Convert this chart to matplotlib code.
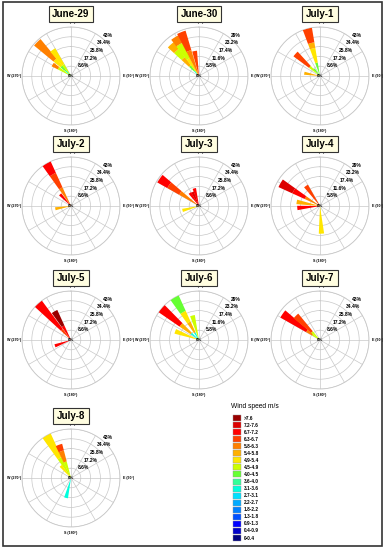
import numpy as np
import matplotlib
matplotlib.use("Agg")
import matplotlib.pyplot as plt
from matplotlib.patches import Rectangle

plt.rcParams['font.family'] = ['Liberation Sans', 'DejaVu Sans']

# ---------------- data ----------------
speed_classes = ['>7.6', '7.2-7.6', '6.7-7.2', '6.3-6.7', '5.8-6.3', '5.4-5.8',
                 '4.9-5.4', '4.5-4.9', '4.0-4.5', '3.6-4.0', '3.1-3.6', '2.7-3.1',
                 '2.2-2.7', '1.8-2.2', '1.3-1.8', '0.9-1.3', '0.4-0.9', '0-0.4']
# colours from slowest (index 0 = 0-0.4) to fastest (index 17 = >7.6)
class_colors = ['#000080', '#0000C8', '#0000FF', '#0050FF', '#0080FF', '#00AAFF',
                '#00E0FF', '#00FFDD', '#33FF99', '#66FF33', '#CCFF00', '#FFE600',
                '#FFB000', '#FF8000', '#FF4000', '#FF0000', '#DD0000', '#990000']

rings_43 = [8.6, 17.2, 25.8, 34.4, 43.0]
ring_labels_43 = ['8.6%', '17.2%', '25.8%', '34.4%', '43%']
rings_29 = [5.8, 11.6, 17.4, 23.2, 29.0]
ring_labels_29 = ['5.8%', '11.6%', '17.4%', '23.2%', '29%']

days = ['June-29', 'June-30', 'July-1', 'July-2', 'July-3', 'July-4',
        'July-5', 'July-6', 'July-7', 'July-8']
day_scale = [43, 29, 43, 43, 43, 29, 43, 29, 43, 43]

# petals: (direction deg, [(speed class index, frequency increment %), ...]) stacked outwards
june29 = [(315, [(7, 6), (9, 6), (11, 8), (13, 22)]),
          (325, [(10, 12), (11, 16)]),
          (302, [(10, 13), (13, 6)])]
june30 = [(318, [(7, 4), (9, 4), (12, 6), (10, 6), (12, 5)]),
          (328, [(11, 12), (10, 10), (13, 5)]),
          (338, [(13, 16), (14, 12)]),
          (350, [(14, 15)])]
july1 = [(345, [(9, 12), (11, 13), (12, 5), (14, 13)]),
         (312, [(10, 12), (14, 17)]),
         (320, [(9, 8)]),
         (280, [(12, 14)])]
july2 = [(330, [(13, 18), (14, 14), (15, 11)]),
         (317, [(15, 14)]),
         (260, [(12, 14)])]
july3 = [(305, [(13, 20), (14, 12), (15, 10)]),
         (345, [(15, 16)]),
         (335, [(16, 13.5)]),
         (325, [(15, 14)]),
         (255, [(11, 15)])]
july4 = [(300, [(13, 10), (15, 8), (16, 9)]),
         (325, [(14, 14.5)]),
         (280, [(12, 14)]),
         (265, [(15, 13.5)]),
         (177, [(11, 16.4)])]
july5 = [(318, [(14, 12), (15, 31)]),
         (330, [(15, 14), (17, 15)]),
         (250, [(15, 15)])]
july6 = [(330, [(7, 5), (12, 7), (11, 7), (9, 10)]),
         (310, [(7, 6), (12, 8), (15, 15)]),
         (345, [(10, 15)]),
         (290, [(11, 15)])]
july7 = [(305, [(10, 8), (13, 6), (15, 26)]),
         (315, [(10, 10), (14, 20)])]
july8 = [(330, [(10, 20), (11, 23)]),
         (340, [(10, 15), (13, 10), (14, 6)]),
         (320, [(11, 14)]),
         (194, [(7, 18)])]
day_petals = [june29, june30, july1, july2, july3, july4, july5, july6, july7, july8]

# ---------------- layout (pixels) ----------------
W, H = 385, 550
fig = plt.figure(figsize=(W / 100, H / 100), dpi=100)

def fx(x):
    return x / W

def fy(y):
    return 1 - y / H

col_x = [71, 199, 320]
row_y = [76, 206, 340, 478]
R = 49
petal_width = np.deg2rad(11)
grid_col = '#c8c8c8'

for i, day in enumerate(days):
    cx = col_x[i % 3]
    cy = row_y[i // 3]
    ax = fig.add_axes([fx(cx - R), fy(cy + R), 2 * R / W, 2 * R / H], projection='polar')
    ax.set_theta_zero_location('N')
    ax.set_theta_direction(-1)
    scale = day_scale[i]
    rings = rings_43 if scale == 43 else rings_29
    rlabels = ring_labels_43 if scale == 43 else ring_labels_29
    ax.set_ylim(0, scale)
    ax.set_yticks(rings)
    ax.set_yticklabels([])
    ax.set_xticks(np.deg2rad(np.arange(0, 360, 30)))
    ax.set_xticklabels([])
    ax.grid(True, color=grid_col, lw=0.5)
    ax.spines['polar'].set_color(grid_col)
    ax.spines['polar'].set_linewidth(0.6)
    ax.tick_params(length=0)

    for direction, segs in day_petals[i]:
        bottom = 0.0
        for cls, val in segs:
            ax.bar(np.deg2rad(direction), val, width=petal_width, bottom=bottom,
                   color=class_colors[cls], edgecolor='none', zorder=3)
            bottom += val

    for r, lab in zip(rings, rlabels):
        ax.text(np.deg2rad(40), r * 1.02, lab, ha='left', va='bottom', fontsize=3.6,
                fontweight='bold', zorder=5)
    ax.text(0, 0, '0%', ha='center', va='center', fontsize=3.2, fontweight='bold', zorder=5)
    ax.text(-0.01, 0.5, 'W (270°)', transform=ax.transAxes, ha='right', va='center',
            fontsize=2.6, fontweight='bold', zorder=6,
            bbox=dict(boxstyle='square,pad=0.05', facecolor='white', edgecolor='none'))
    ax.text(1.03, 0.5, 'E (90°)', transform=ax.transAxes, ha='left', va='center',
            fontsize=2.6, fontweight='bold')
    ax.text(0.5, -0.04, 'S (180°)', transform=ax.transAxes, ha='center', va='top',
            fontsize=2.6, fontweight='bold')
    ax.text(0.5, 1.03, 'N (0°)', transform=ax.transAxes, ha='center', va='bottom',
            fontsize=2.6, fontweight='bold')

    fig.text(fx(cx), fy(cy - 62), day, ha='center', va='center', fontsize=7,
             fontweight='bold', zorder=10,
             bbox=dict(boxstyle='square,pad=0.35', facecolor='#FFFDE0',
                       edgecolor='#333333', linewidth=0.8))

# ---------------- legend ----------------
fig.text(fx(231), fy(406), 'Wind speed m/s', ha='left', va='center', fontsize=4.8)
for k, lab in enumerate(speed_classes):
    yc = 418 + k * 7.06
    cls = len(speed_classes) - 1 - k
    fig.patches.append(Rectangle((fx(233), fy(yc + 3)), 8 / W, 6 / H,
                                 transform=fig.transFigure, facecolor=class_colors[cls],
                                 edgecolor='#999999', linewidth=0.3))
    fig.text(fx(243.5), fy(yc), lab, ha='left', va='center', fontsize=3.4, fontweight='bold')

# ---------------- outer frame ----------------
fig.patches.append(Rectangle((fx(3), fy(546)), 379 / W, 544 / H, transform=fig.transFigure,
                             facecolor='none', edgecolor='#333333', linewidth=1.2))

fig.savefig('out.png', dpi=100)
